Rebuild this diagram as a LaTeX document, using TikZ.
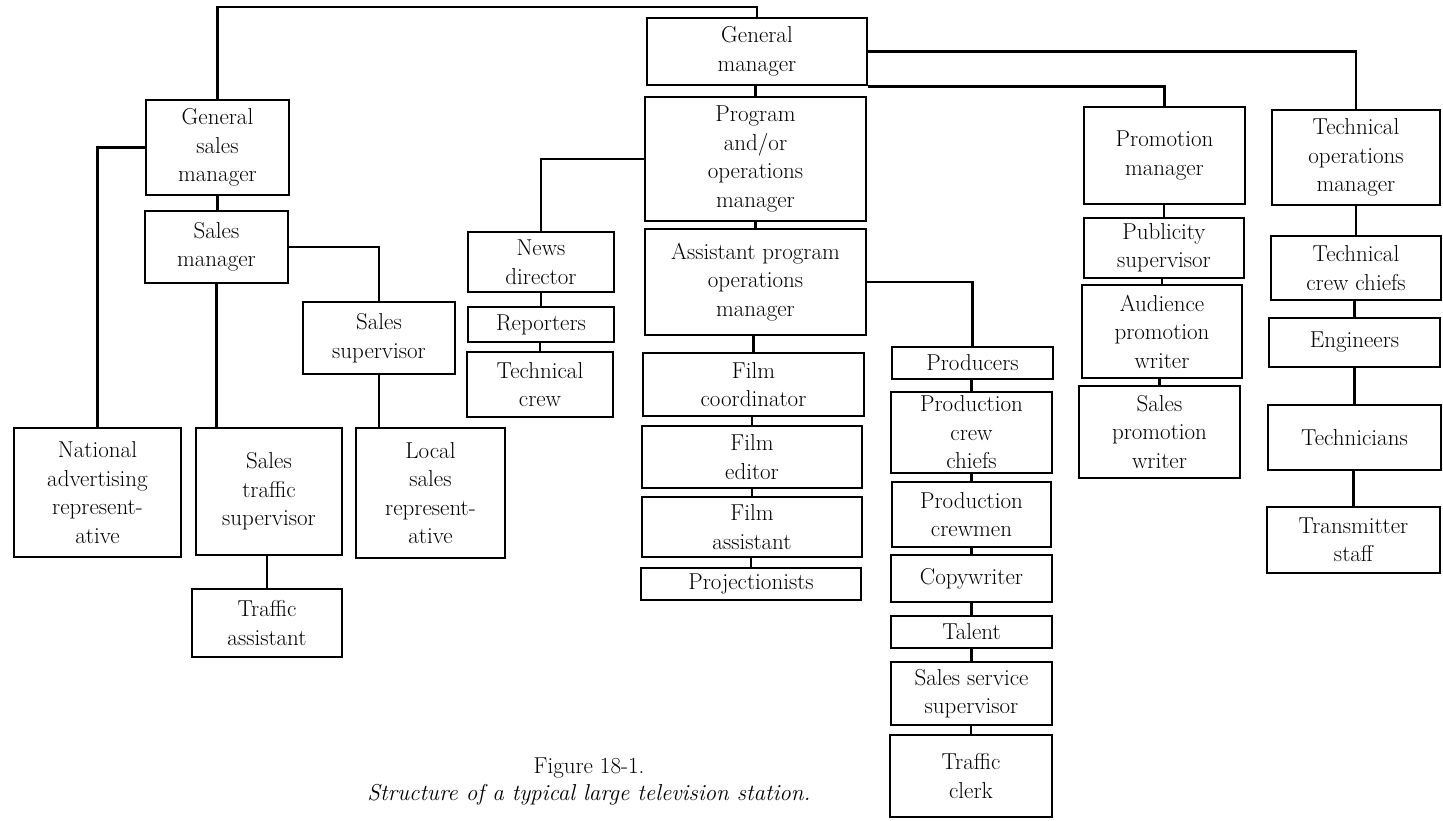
\documentclass[tikz,border=0pt]{standalone}
\usepackage{tikz}
\usetikzlibrary{positioning,calc}
\newcommand{\postfont}{\fontsize{23}{28.5}\selectfont}
\tikzset{
  post/.style = {draw, line width=2.8pt, align=center, inner sep=0pt, font=\postfont},
  link/.style = {line width=2.8pt},
  capt/.style = {inner sep=0pt, font=\postfont}
}
\begin{document}
\begin{tikzpicture}[x=1pt,y=-1pt]
\useasboundingbox (0,0) rectangle (1443,821);
% Top
\node[post, minimum width=220pt, minimum height=67pt] (gm) at (757,51.5) {General\\manager};

% Sales side
\node[post, minimum width=143pt, minimum height=95pt] (gsm) at (217.5,147.5) {General\\sales\\manager};
\node[post, minimum width=143pt, minimum height=72pt] (sm) at (216.5,247) {Sales\\manager};
\node[post, minimum width=152pt, minimum height=72pt] (ssup) at (379,338) {Sales\\supervisor};
\node[post, minimum width=167pt, minimum height=129pt] (nat) at (97.5,492.5) {National\\advertising\\represent-\\ative};
\node[post, minimum width=146pt, minimum height=127pt] (stsup) at (269,491.5) {Sales\\traffic\\supervisor};
\node[post, minimum width=150pt, minimum height=68pt] (ta) at (267,623) {Traffic\\assistant};
\node[post, minimum width=149pt, minimum height=130pt] (lsr) at (430.5,493) {Local\\sales\\represent-\\ative};
\coordinate (topbar) at (0,7);
\draw[link] (gm.north) |- (topbar -| gsm.north) -- (gsm.north);
\draw[link] (gsm.west) -| (nat.north);
\draw[link] (gsm.south) -- (gsm.south |- sm.north);
\draw[link] (sm.east) -| (ssup.north);
\draw[link] (sm.south) -- (sm.south |- stsup.north);
\draw[link] (ssup.south) -- (ssup.south |- lsr.north);
\draw[link] (ta.north) -- (ta.north |- stsup.south);

% Program side
\node[post, minimum width=221pt, minimum height=124pt] (pom) at (755.5,159) {Program\\and/or\\operations\\manager};
\node[post, minimum width=146pt, minimum height=60pt] (news) at (541,262) {News\\director};
\node[post, minimum width=146pt, minimum height=35pt] (rep) at (541,324.5) {Reporters};
\node[post, minimum width=146pt, minimum height=65pt] (tcrew) at (540,384.5) {Technical\\crew};
\node[post, minimum width=221pt, minimum height=106pt] (apom) at (755.5,282) {Assistant program\\operations\\manager};
\node[post, minimum width=221pt, minimum height=63pt] (fcoord) at (753.5,384.5) {Film\\coordinator};
\node[post, minimum width=220pt, minimum height=62pt] (fed) at (752,457) {Film\\editor};
\node[post, minimum width=220pt, minimum height=60pt] (fass) at (752,527) {Film\\assistant};
\node[post, minimum width=220pt, minimum height=32pt] (proj) at (751,584) {Projectionists};
\draw[link] (pom.north) -- (pom.north |- gm.south);
\draw[link] (pom.west) -| (news.north);
\draw[link] (rep.north) -- (rep.north |- news.south);
\draw[link] (tcrew.north) -- (tcrew.north |- rep.south);
\draw[link] (apom.north) -- (apom.north |- pom.south);
\draw[link] (fcoord.north) -- (fcoord.north |- apom.south);
\draw[link] (fed.north) -- (fed.north |- fcoord.south);
\draw[link] (fass.north) -- (fass.north |- fed.south);
\draw[link] (proj.north) -- (proj.north |- fass.south);

% Production column
\node[post, minimum width=161pt, minimum height=32pt] (prod) at (972.5,363) {Producers};
\node[post, minimum width=161pt, minimum height=81pt] (pcc) at (971.5,432.5) {Production\\crew\\chiefs};
\node[post, minimum width=159pt, minimum height=65pt] (pcm) at (971.5,514.5) {Production\\crewmen};
\node[post, minimum width=161pt, minimum height=47pt] (copy) at (971.5,578.5) {Copywriter};
\node[post, minimum width=161pt, minimum height=32pt] (tal) at (971.5,632) {Talent};
\node[post, minimum width=161pt, minimum height=63pt] (sss) at (971.5,693.5) {Sales service\\supervisor};
\node[post, minimum width=162pt, minimum height=82pt] (tc) at (971,776) {Traffic\\clerk};
\draw[link] (apom.east) -| (prod.north);
\draw[link] (pcc.north) -- (pcc.north |- prod.south);
\draw[link] (pcm.north) -- (pcm.north |- pcc.south);
\draw[link] (copy.north) -- (copy.north |- pcm.south);
\draw[link] (tal.north) -- (tal.north |- copy.south);
\draw[link] (sss.north) -- (sss.north |- tal.south);
\draw[link] (tc.north) -- (tc.north |- sss.south);

% Promotion side
\node[post, minimum width=161pt, minimum height=97pt] (promo) at (1164.5,155.5) {Promotion\\manager};
\node[post, minimum width=160pt, minimum height=60pt] (pub) at (1164,248) {Publicity\\supervisor};
\node[post, minimum width=160pt, minimum height=93pt] (aud) at (1162,331.5) {Audience\\promotion\\writer};
\node[post, minimum width=161pt, minimum height=92pt] (spw) at (1159.5,432) {Sales\\promotion\\writer};
\draw[link] (gm.south east) -| (promo.north);
\draw[link] (pub.north) -- (pub.north |- promo.south);
\draw[link] (aud.north) -- (aud.north |- pub.south);
\draw[link] (spw.north) -- (spw.north |- aud.south);

% Technical side
\node[post, minimum width=168pt, minimum height=95pt] (tom) at (1356,157.5) {Technical\\operations\\manager};
\node[post, minimum width=170pt, minimum height=64pt] (tcc) at (1356,268) {Technical\\crew chiefs};
\node[post, minimum width=171pt, minimum height=49pt] (eng) at (1354.5,342.5) {Engineers};
\node[post, minimum width=173pt, minimum height=65pt] (techn) at (1354.5,437.5) {Technicians};
\node[post, minimum width=173pt, minimum height=66pt] (trans) at (1353.5,540) {Transmitter\\staff};
\draw[link] (gm.east) -| (tom.north);
\draw[link] (tcc.north) -- (tcc.north |- tom.south);
\draw[link] (eng.north) -- (eng.north |- tcc.south);
\draw[link] (techn.north) -- (techn.north |- eng.south);
\draw[link] (trans.north) -- (trans.north |- techn.south);

% Caption
\node[capt] (fig) at (589,768) {Figure 18-1.};
\node[capt, below=6pt of fig] (title) {\itshape Structure of a typical large television station.};
\end{tikzpicture}
\end{document}
